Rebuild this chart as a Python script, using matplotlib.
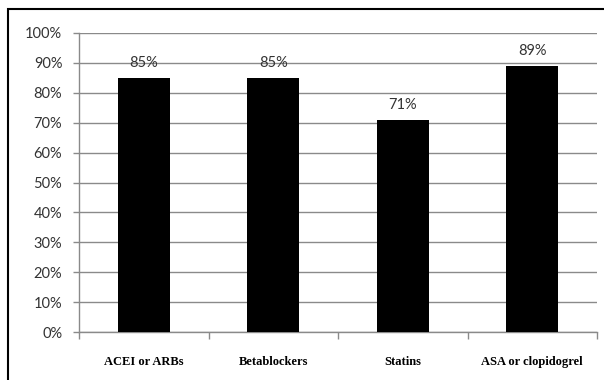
import matplotlib
matplotlib.use("Agg")
import matplotlib.pyplot as plt
import numpy as np
from matplotlib.patches import Rectangle

categories = ["ACEI or ARBs", "Betablockers", "Statins", "ASA or clopidogrel"]
values = [85, 85, 71, 89]
ytick_vals = [0, 10, 20, 30, 40, 50, 60, 70, 80, 90, 100]

W, H = 604, 380
fig = plt.figure(figsize=(W / 100, H / 100), dpi=100)
ax = fig.add_axes([79 / W, 1 - 332 / H, (597 - 79) / W, (332 - 33) / H])

x = np.arange(len(categories))
ax.bar(x, values, width=0.4, color="black", zorder=3)
for xi, v in zip(x, values):
    ax.text(xi, v + 2.6, f"{v}%", ha="center", va="bottom", fontsize=10.5,
            family="Lato", color="#333333")

ax.set_xlim(-0.5, len(categories) - 0.5)
ax.set_ylim(0, 100)
ax.set_yticks(ytick_vals)
ax.set_yticklabels([f"{t}%" for t in ytick_vals], family="Lato", fontsize=10.5, color="#333333")
ax.yaxis.grid(True, color="#8a8a8a", linewidth=1, zorder=0)
ax.set_axisbelow(True)

ax.set_xticks(x)
ax.set_xticklabels(categories, family="Liberation Serif", fontweight="bold", fontsize=9)
ax.tick_params(axis="x", which="major", length=0, pad=17)
ax.set_xticks(np.arange(-0.5, len(categories), 1.0), minor=True)
ax.tick_params(axis="x", which="minor", length=5, color="#8a8a8a", width=1)
ax.tick_params(axis="y", length=4, color="#8a8a8a", width=1, pad=8)

for s in ["top", "right"]:
    ax.spines[s].set_visible(False)
for s in ["left", "bottom"]:
    ax.spines[s].set_color("#8a8a8a")
    ax.spines[s].set_linewidth(1)

fig.patches.append(Rectangle((8 / W, -0.2), 1.2, (1 - 9 / H) + 0.2,
                             transform=fig.transFigure, fill=False,
                             edgecolor="black", linewidth=1.5))

fig.savefig("out.png", dpi=100)
